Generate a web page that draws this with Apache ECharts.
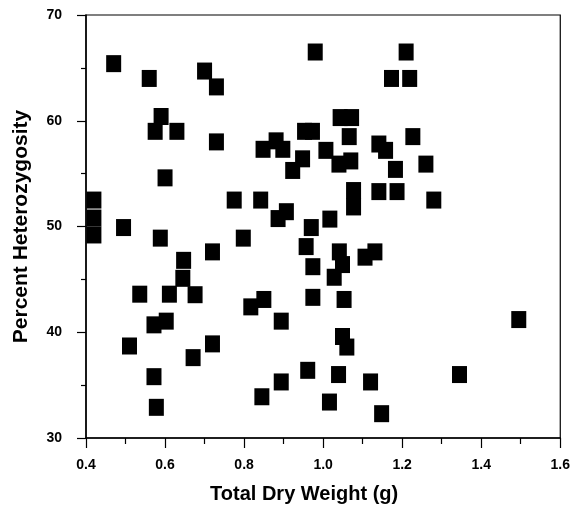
<!DOCTYPE html>
<html>
<head>
    <meta charset="utf-8">
    <title>Heterozygosity vs dry weight</title>
    <script src="https://cdn.jsdelivr.net/npm/echarts@6/dist/echarts.min.js"></script>
</head>
<body style="margin:0">
    <div id="main" style="width: 573px;height:509px;"></div>
    <script type="text/javascript">
        // total dry weight (g) and percent heterozygosity
        var dryWeight = [
            0.47, 0.56, 0.70, 0.73, 0.59, 0.575, 0.63, 0.73, 0.60, 0.42,
            0.42, 0.42, 0.495, 0.775, 0.842, 0.907, 0.886, 0.98, 1.21, 1.173,
            1.219, 1.043, 1.072, 0.953, 0.973, 0.881, 0.848, 0.898, 0.948, 0.923,
            1.007, 1.066, 1.04, 1.07, 1.141, 1.158, 1.183, 1.227, 1.26, 1.077,
            1.077, 1.141, 1.187, 1.28, 0.97, 1.017, 0.588, 0.798, 0.72, 0.647,
            0.645, 0.536, 0.611, 0.676, 0.817, 0.85, 0.894, 0.572, 0.603, 0.51,
            0.72, 0.671, 0.572, 0.578, 0.845, 0.894, 0.961, 0.957, 0.974, 0.974,
            1.041, 1.049, 1.106, 1.131, 1.028, 1.053, 1.495, 1.049, 1.06, 1.039,
            1.12, 1.345, 1.016, 1.148
        ];
        var heterozygosity = [
            65.4, 64.0, 64.7, 63.2, 60.4, 59.0, 59.0, 58.0, 54.6, 52.5,
            50.8, 49.2, 49.9, 52.5, 52.5, 51.4, 50.75, 66.5, 66.5, 64.0,
            64.0, 60.3, 60.3, 59.0, 59.0, 58.1, 57.3, 57.3, 56.4, 55.3,
            57.2, 58.5, 55.9, 56.2, 57.8, 57.2, 55.4, 58.5, 55.9, 53.4,
            51.85, 53.3, 53.3, 52.5, 49.9, 50.7, 48.9, 48.9, 47.6, 46.8,
            45.1, 43.6, 43.6, 43.55, 42.4, 43.1, 41.05, 40.7, 41.05, 38.7,
            38.9, 37.6, 35.8, 32.9, 33.9, 35.3, 36.4, 48.1, 46.2, 43.3,
            47.6, 46.4, 47.1, 47.6, 45.2, 43.1, 41.2, 39.6, 38.6, 36.0,
            35.3, 36.0, 33.4, 32.3
        ];

        var points = dryWeight.map(function (w, i) {
            return [w, heterozygosity[i]];
        });

        var myChart = echarts.init(document.getElementById('main'));
        var fontFamily = '"Liberation Sans", Arial, sans-serif';

        var option = {
            animation: false,
            grid: {
                left: 86,
                right: 10,
                top: 15,
                bottom: 68,
                show: true,
                borderColor: '#000',
                borderWidth: 1.2
            },
            xAxis: {
                type: 'value',
                min: 0.4,
                max: 1.6,
                interval: 0.2,
                name: 'Total Dry Weight (g)',
                nameLocation: 'middle',
                nameGap: 46,
                nameTextStyle: {
                    color: '#000', fontSize: 20, fontWeight: 'bold', fontFamily: fontFamily,
                    padding: [0, 38, 0, 0]
                },
                axisLine: { lineStyle: { color: '#000', width: 1.5 } },
                axisTick: { length: 10, lineStyle: { color: '#000', width: 1.2 } },
                minorTick: { show: true, splitNumber: 2, length: 6, lineStyle: { color: '#000', width: 1.2 } },
                splitLine: { show: false },
                axisLabel: {
                    color: '#000', fontSize: 14, fontWeight: 'bold', fontFamily: fontFamily, margin: 20,
                    formatter: function (v) { return v.toFixed(1); }
                }
            },
            yAxis: {
                type: 'value',
                min: 30,
                max: 70,
                interval: 10,
                name: 'Percent Heterozygosity',
                nameLocation: 'middle',
                nameGap: 54,
                nameTextStyle: { color: '#000', fontSize: 21, fontWeight: 'bold', fontFamily: fontFamily },
                axisLine: { lineStyle: { color: '#000', width: 1.5 } },
                axisTick: { length: 9, lineStyle: { color: '#000', width: 1.2 } },
                minorTick: { show: true, splitNumber: 2, length: 5, lineStyle: { color: '#000', width: 1.2 } },
                splitLine: { show: false },
                axisLabel: { color: '#000', fontSize: 14, fontWeight: 'bold', fontFamily: fontFamily, margin: 24 }
            },
            series: [{
                type: 'scatter',
                data: points,
                symbol: 'rect',
                symbolSize: [15, 17],
                itemStyle: { color: '#000', opacity: 1 }
            }]
        };

        myChart.setOption(option);
    </script>
</body>
</html>
